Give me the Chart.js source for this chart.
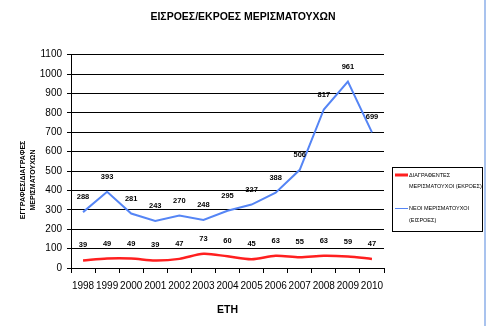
<!DOCTYPE html>
<html>
<head>
<meta charset="utf-8">
<script src="https://cdn.jsdelivr.net/npm/chart.js@4"></script>
<style>
  html, body { margin: 0; padding: 0; background: #fff; }
  #wrap { width: 486px; height: 326px; position: relative; }
</style>
</head>
<body>
<div id="wrap"><canvas id="chart" width="486" height="326"></canvas></div>
<script>
// ---------- datos ----------
const years = ['1998','1999','2000','2001','2002','2003','2004','2005','2006','2007','2008','2009','2010'];
const diagrafentes = [39, 49, 49, 39, 47, 73, 60, 45, 63, 55, 63, 59, 47];       // ΕΚΡΟΕΣ
const neoi = [288, 393, 281, 243, 270, 248, 295, 327, 388, 506, 817, 961, 699];  // ΕΙΣΡΟΕΣ
const yMax = 1100;
const yStep = 100;

const titleText = 'ΕΙΣΡΟΕΣ/ΕΚΡΟΕΣ ΜΕΡΙΣΜΑΤΟΥΧΩΝ';
const xTitle = 'ΕΤΗ';
const yTitle = ['ΕΓΓΡΑΦΕΣ/ΔΙΑΓΡΑΦΕΣ', 'ΜΕΡΙΣΜΑΤΟΥΧΩΝ'];
const legendRed = ['ΔΙΑΓΡΑΦΕΝΤΕΣ', 'ΜΕΡΙΣΜΑΤΟΥΧΟΙ (ΕΚΡΟΕΣ)'];
const legendBlue = ['ΝΕΟΙ ΜΕΡΙΣΜΑΤΟΥΧΟΙ', '(ΕΙΣΡΟΕΣ)'];

const FONT = '"Liberation Sans", Arial, sans-serif';
const RED = '#ff1f1f';
const BLUE = '#5585f5';

Chart.defaults.font.family = FONT;
Chart.defaults.color = '#000';

// etiquetas de valores encima de cada punto
const valueLabels = {
  id: 'valueLabels',
  afterDatasetsDraw(chart) {
    const { ctx } = chart;
    ctx.save();
    ctx.font = 'bold 7.5px ' + FONT;
    ctx.fillStyle = '#000';
    ctx.textAlign = 'center';
    ctx.textBaseline = 'middle';
    chart.data.datasets.forEach((ds, i) => {
      chart.getDatasetMeta(i).data.forEach((pt, j) => {
        ctx.fillText(String(ds.data[j]), pt.x, pt.y - 15);
      });
    });
    ctx.restore();
  }
};

// título eje Y (dos líneas, desplazado) + leyenda con marco + borde derecho
const extras = {
  id: 'extras',
  afterDraw(chart) {
    const { ctx } = chart;
    ctx.save();

    // eje Y
    ctx.font = 'bold 7px ' + FONT;
    ctx.fillStyle = '#000';
    ctx.textAlign = 'center';
    ctx.textBaseline = 'middle';
    ctx.translate(0, 180);
    ctx.rotate(-Math.PI / 2);
    ctx.fillText(yTitle[0], 0, 23);
    ctx.fillText(yTitle[1], 0, 33);
    ctx.setTransform(1, 0, 0, 1, 0, 0);

    // leyenda
    ctx.strokeStyle = '#000';
    ctx.lineWidth = 1;
    ctx.strokeRect(392.5, 167.5, 90, 64);
    ctx.font = '5.5px ' + FONT;
    ctx.textAlign = 'left';
    ctx.strokeStyle = RED;
    ctx.lineWidth = 3;
    ctx.beginPath(); ctx.moveTo(395, 175); ctx.lineTo(408, 175); ctx.stroke();
    ctx.fillText(legendRed[0], 409, 175);
    ctx.fillText(legendRed[1], 409, 186);
    ctx.strokeStyle = BLUE;
    ctx.lineWidth = 1;
    ctx.beginPath(); ctx.moveTo(395, 208.5); ctx.lineTo(408, 208.5); ctx.stroke();
    ctx.fillText(legendBlue[0], 409, 208);
    ctx.fillText(legendBlue[1], 409, 220);

    // borde derecho celeste
    ctx.fillStyle = '#a9c3ee';
    ctx.fillRect(484, 0, 2, 326);
    ctx.restore();
  }
};

new Chart(document.getElementById('chart'), {
  type: 'line',
  data: {
    labels: years,
    datasets: [
      {
        label: legendRed.join(' '),
        data: diagrafentes,
        borderColor: RED,
        borderWidth: 2.5,
        pointRadius: 0,
        tension: 0.3
      },
      {
        label: legendBlue.join(' '),
        data: neoi,
        borderColor: BLUE,
        borderWidth: 2,
        pointRadius: 0,
        tension: 0
      }
    ]
  },
  options: {
    responsive: false,
    animation: false,
    layout: { padding: 0 },
    plugins: {
      legend: { display: false },
      tooltip: { enabled: false },
      title: {
        display: true,
        text: titleText,
        font: { size: 10.5, weight: 'bold' },
        color: '#000',
        padding: { top: 11, bottom: 31 }
      }
    },
    scales: {
      x: {
        offset: true,
        grid: { offset: true, drawOnChartArea: false, color: '#000', tickLength: 5 },
        border: { color: '#000' },
        ticks: { font: { size: 10 }, color: '#000', padding: 7, maxRotation: 0, autoSkip: false },
        title: { display: true, text: xTitle, font: { size: 10.5, weight: 'bold' }, color: '#000', padding: { top: 4, bottom: 10 } },
        afterFit: (s) => { s.height = 58; }
      },
      y: {
        min: 0,
        max: yMax,
        ticks: { stepSize: yStep, font: { size: 10 }, color: '#000', padding: 5, callback: (v) => String(v) },
        grid: { color: '#000', tickLength: 4 },
        border: { color: '#000' },
        afterFit: (s) => { s.width = 71; }
      },
      // eje fantasma a la derecha: reserva el hueco de la leyenda
      yRight: {
        position: 'right',
        grid: { display: false },
        ticks: { display: false },
        border: { display: false },
        afterFit: (s) => { s.width = 102; }
      }
    }
  },
  plugins: [valueLabels, extras]
});
</script>
</body>
</html>
